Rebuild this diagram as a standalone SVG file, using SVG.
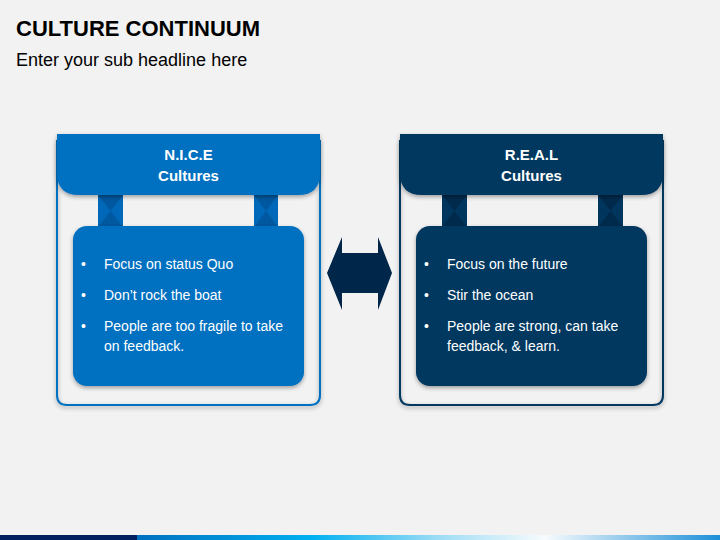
<svg xmlns="http://www.w3.org/2000/svg" width="720" height="540" viewBox="0 0 720 540">
<defs>
<style>
.t{font-family:"Liberation Sans",Arial,sans-serif;}
.hd{font-family:"Liberation Sans",Arial,sans-serif;font-weight:bold;font-size:15px;fill:#fff;text-anchor:middle;}
.bl{font-family:"Liberation Sans",Arial,sans-serif;font-size:14px;fill:#fff;}
</style>
<filter id="sh" x="-10%" y="-10%" width="120%" height="130%">
<feDropShadow dx="0" dy="2" stdDeviation="2" flood-color="#000" flood-opacity="0.35"/>
</filter>
<linearGradient id="bar" x1="0" y1="0" x2="1" y2="0">
<stop offset="0" stop-color="#0070C0"/>
<stop offset="0.3" stop-color="#00B0F0"/>
<stop offset="0.52" stop-color="#9FDDF5"/>
<stop offset="0.7" stop-color="#F7FBFD"/>
<stop offset="1" stop-color="#1C8FD8"/>
</linearGradient>
</defs>
<rect width="720" height="540" fill="#F2F2F2"/>
<text class="t" x="16" y="36" font-size="22" font-weight="bold" fill="#000">CULTURE CONTINUUM</text>
<text class="t" x="16" y="66" font-size="18" fill="#000">Enter your sub headline here</text>

<g id="nice">
<path d="M57,140 V395 Q57,405 67,405 H310 Q320,405 320,395 V140" fill="none" stroke="#0070C0" stroke-width="2" filter="url(#sh)"/>
<rect x="98" y="195" width="25" height="32" fill="#0068B8"/>
<path d="M98,195 H123 L110.5,211 Z M98,227 H123 L110.5,211 Z" fill="#0058A0"/>
<rect x="254" y="195" width="24" height="32" fill="#0068B8"/>
<path d="M254,195 H278 L266,211 Z M254,227 H278 L266,211 Z" fill="#0058A0"/>
<path d="M57,134 H320 V173 Q320,195 298,195 H79 Q57,195 57,173 Z" fill="#0070C0" filter="url(#sh)"/>
<text class="hd" x="188.5" y="160">N.I.C.E</text>
<text class="hd" x="188.5" y="181">Cultures</text>
<rect x="73" y="226" width="231" height="160" rx="14" fill="#0070C0" filter="url(#sh)"/>
<text class="bl" x="81" y="269">•</text>
<text class="bl" x="104" y="269">Focus on status Quo</text>
<text class="bl" x="81" y="300">•</text>
<text class="bl" x="104" y="300">Don’t rock the boat</text>
<text class="bl" x="81" y="331">•</text>
<text class="bl" x="104" y="331">People are too fragile to take</text>
<text class="bl" x="104" y="351">on feedback.</text>
</g>

<g id="real">
<path d="M400,140 V395 Q400,405 410,405 H653 Q663,405 663,395 V140" fill="none" stroke="#00375F" stroke-width="2" filter="url(#sh)"/>
<rect x="442" y="195" width="25" height="32" fill="#00365E"/>
<path d="M442,195 H467 L454.5,211 Z M442,227 H467 L454.5,211 Z" fill="#002A4C"/>
<rect x="598" y="195" width="25" height="32" fill="#00365E"/>
<path d="M598,195 H623 L610.5,211 Z M598,227 H623 L610.5,211 Z" fill="#002A4C"/>
<path d="M400,134 H663 V173 Q663,195 641,195 H422 Q400,195 400,173 Z" fill="#00375F" filter="url(#sh)"/>
<text class="hd" x="531.5" y="160">R.E.A.L</text>
<text class="hd" x="531.5" y="181">Cultures</text>
<rect x="416" y="226" width="231" height="160" rx="14" fill="#00375F" filter="url(#sh)"/>
<text class="bl" x="424" y="269">•</text>
<text class="bl" x="447" y="269">Focus on the future</text>
<text class="bl" x="424" y="300">•</text>
<text class="bl" x="447" y="300">Stir the ocean</text>
<text class="bl" x="424" y="331">•</text>
<text class="bl" x="447" y="331">People are strong, can take</text>
<text class="bl" x="447" y="351">feedback, &amp; learn.</text>
</g>

<g id="connectors">
<path d="M327,273 L342,237 V253 H378 V237 L392,273 L378,310 V293 H342 V310 Z" fill="#00264A"/>
</g>

<rect x="0" y="535" width="137" height="5" fill="#002060"/>
<rect x="137" y="535" width="583" height="5" fill="url(#bar)"/>
</svg>
